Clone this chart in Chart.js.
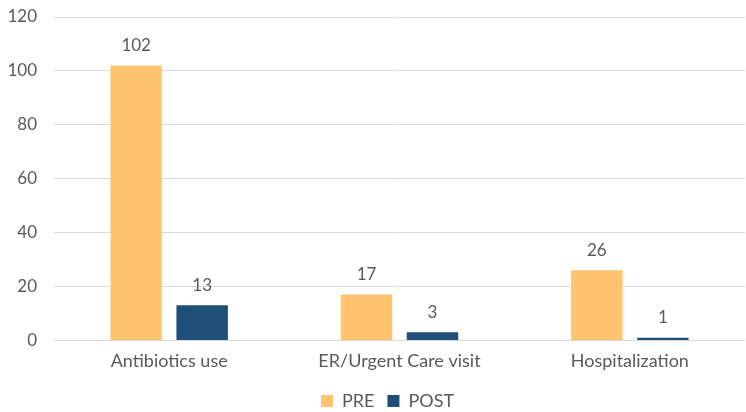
<!DOCTYPE html>
<html lang="en">
<head>
    <meta charset="UTF-8">
    <title>PRE vs POST</title>
    <script src="https://cdn.jsdelivr.net/npm/chart.js"></script>
    <style>
        html, body { margin: 0; padding: 0; background: #fff; }
        #wrap { width: 746px; height: 412px; }
    </style>
</head>
<body>
    <div id="wrap"><canvas id="grafico"></canvas></div>
    <script>
        // Dados
        const categorias = ["Antibiotics use", "ER/Urgent Care visit", "Hospitalization"];
        const valoresPre = [102, 17, 26];
        const valoresPost = [13, 3, 1];
        const yTicks = [0, 20, 40, 60, 80, 100, 120];

        const corTexto = '#595959';
        const fonte = 'Lato, "Open Sans", sans-serif';

        // rótulos de valor acima das barras
        const rotulos = {
            id: 'rotulos',
            afterLayout(chart) {
                // legenda um pouco à direita, como no original
                chart.legend.left += 15;
                chart.legend.right += 15;
            },
            afterDatasetsDraw(chart) {
                const ctx = chart.ctx;
                ctx.save();
                ctx.font = '17px ' + fonte;
                ctx.fillStyle = corTexto;
                ctx.textAlign = 'center';
                ctx.textBaseline = 'middle';
                chart.data.datasets.forEach((ds, i) => {
                    chart.getDatasetMeta(i).data.forEach((bar, j) => {
                        ctx.fillText(ds.data[j], bar.x, bar.y - 20);
                    });
                });
                ctx.restore();
            }
        };

        new Chart(document.getElementById('grafico'), {
            type: 'bar',
            data: {
                labels: categorias,
                datasets: [
                    { label: 'PRE', data: valoresPre, backgroundColor: '#FFC46D', borderWidth: 0 },
                    { label: 'POST', data: valoresPost, backgroundColor: '#1F4E79', borderWidth: 0 }
                ]
            },
            options: {
                responsive: true,
                maintainAspectRatio: false,
                animation: false,
                categoryPercentage: 0.573,
                barPercentage: 0.78,
                layout: { padding: { top: 17, right: 1, bottom: -8, left: 0 } },
                plugins: {
                    tooltip: { enabled: false },
                    legend: {
                        position: 'bottom',
                        labels: {
                            boxWidth: 12, boxHeight: 12, padding: 13,
                            color: corTexto,
                            font: { family: fonte, size: 18 }
                        }
                    }
                },
                scales: {
                    x: {
                        afterFit: s => { s.height = 38.6; },
                        grid: { display: false, drawTicks: false },
                        border: { display: false },
                        ticks: { color: corTexto, font: { family: fonte, size: 18 }, padding: 10 }
                    },
                    y: {
                        min: 0, max: 120,
                        afterBuildTicks: s => { s.ticks = yTicks.map(v => ({ value: v })); },
                        afterFit: s => { s.width = 54; s.paddingTop = 0; s.paddingBottom = 0; },
                        grid: { color: '#D9D9D9', lineWidth: 1, drawTicks: false },
                        border: { display: false },
                        ticks: { color: corTexto, font: { family: fonte, size: 17 }, padding: 17 }
                    }
                }
            },
            plugins: [rotulos]
        });
    </script>
</body>
</html>
